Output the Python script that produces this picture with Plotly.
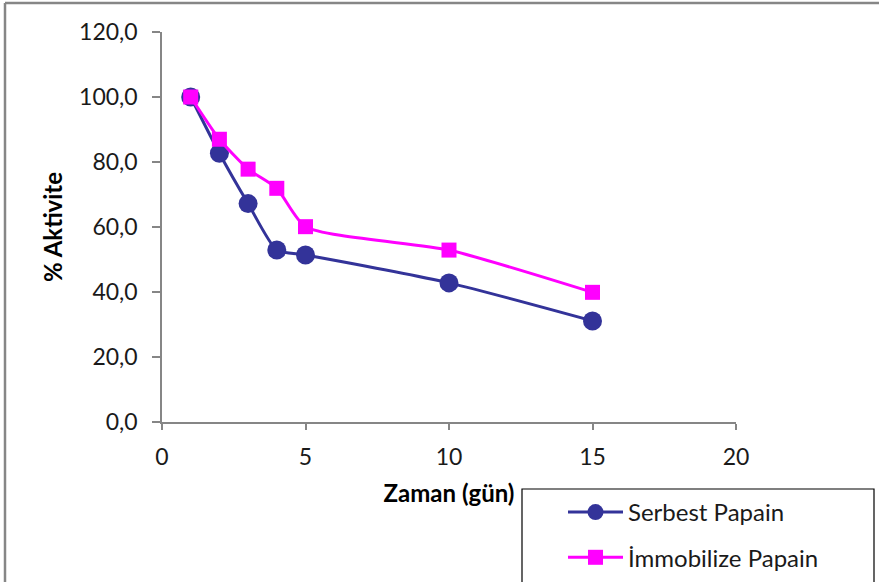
import plotly.graph_objects as go

days = [1, 2, 3, 4, 5, 10, 15]
serbest = [100.0, 82.7, 67.2, 52.9, 51.4, 42.8, 31.1]
immobilize = [100.0, 87.0, 77.8, 71.9, 60.1, 52.9, 39.9]
names = ["Serbest Papain", "İmmobilize Papain"]
x_ticks = [0, 5, 10, 15, 20]
y_ticks = [0, 20, 40, 60, 80, 100, 120]

FONT = "Lato"

fig = go.Figure()
fig.add_trace(go.Scatter(
    x=days, y=serbest, name=names[0], mode="lines+markers",
    line=dict(color="#333399", width=3, shape="spline", smoothing=0.6),
    marker=dict(symbol="circle", size=19, color="#333399"),
    legendgroup="a",
))
fig.add_trace(go.Scatter(
    x=days, y=immobilize, name=names[1], mode="lines+markers",
    line=dict(color="#FF00FF", width=3, shape="spline", smoothing=0.6),
    marker=dict(symbol="square", size=15, color="#FF00FF"),
    legendgroup="b",
))

fig.update_layout(
    width=879, height=582,
    margin=dict(l=162, r=143, t=32, b=160, autoexpand=False),
    paper_bgcolor="white", plot_bgcolor="white",
    separators=", ",
    font=dict(family=FONT, size=23, color="#1a1a1a"),
    showlegend=True,
    legend=dict(
        x=563 / 879, y=1 - 490 / 582, xanchor="left", yanchor="top",
        xref="container", yref="container",
        bgcolor="rgba(0,0,0,0)", borderwidth=0,
        font=dict(family=FONT, size=24, color="#1a1a1a"),
        tracegroupgap=11, itemwidth=55,
    ),
    xaxis=dict(
        range=[0, 20], tickvals=x_ticks, ticktext=[str(v) for v in x_ticks],
        showgrid=False, zeroline=False, showline=True, linecolor="#868686", linewidth=1.5,
        ticks="outside", ticklen=6, tickcolor="#868686", tickwidth=1.5,
        ticklabelstandoff=8,
        title=dict(text="<b>Zaman (gün)</b>", font=dict(family=FONT, size=24, color="#000"), standoff=16),
    ),
    yaxis=dict(
        range=[0, 120], tickvals=y_ticks, tickformat=".1f",
        showgrid=False, zeroline=False, showline=True, linecolor="#868686", linewidth=1.5,
        ticks="outside", ticklen=8, tickcolor="#868686", tickwidth=1.5,
        ticklabelstandoff=10,
        title=dict(text="<b>% Aktivite</b>", font=dict(family=FONT, size=24, color="#000"), standoff=10),
    ),
    shapes=[
        dict(type="rect", xref="paper", yref="paper",
             x0=(522 - 162) / 574, x1=(874 - 162) / 574,
             y0=(422 - 590) / 390, y1=(422 - 489) / 390,
             line=dict(color="#000", width=1.2), fillcolor="rgba(0,0,0,0)", layer="above"),
        dict(type="line", xref="paper", yref="paper",
             x0=(5 - 162) / 574, x1=(885 - 162) / 574,
             y0=(422 - 3) / 390, y1=(422 - 3) / 390,
             line=dict(color="#868686", width=2.5)),
        dict(type="line", xref="paper", yref="paper",
             x0=(5 - 162) / 574, x1=(5 - 162) / 574,
             y0=(422 - 3) / 390, y1=(422 - 590) / 390,
             line=dict(color="#868686", width=2.5)),
    ],
)

fig.write_html("out.html")
